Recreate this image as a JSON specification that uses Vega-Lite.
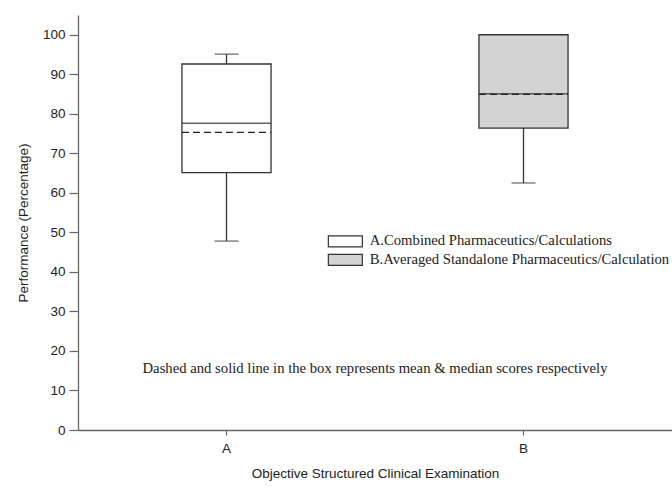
{
  "$schema": "https://vega.github.io/schema/vega-lite/v6.json",
  "width": 594,
  "height": 415,
  "autosize": {"type": "none"},
  "padding": {"left": 78, "top": 15, "right": 0, "bottom": 58},
  "background": "white",
  "config": {
    "view": {"stroke": null},
    "axis": {
      "labelFont": "Liberation Sans",
      "titleFont": "Liberation Sans",
      "labelFontSize": 13.5,
      "titleFontSize": 13.5,
      "titleFontWeight": "normal",
      "labelColor": "#222",
      "titleColor": "#222",
      "domainColor": "#666",
      "tickColor": "#666",
      "domainWidth": 1.3,
      "tickWidth": 1.2,
      "grid": false
    }
  },
  "data": {
    "values": [
      {"group": "A", "low": 47.8, "q1": 65.1, "median": 77.6, "mean": 75.3, "q3": 92.6, "high": 95.1},
      {"group": "B", "low": 62.5, "q1": 76.4, "median": 85.1, "mean": 84.9, "q3": 100, "high": 100}
    ]
  },
  "encoding": {
    "x": {
      "field": "group",
      "type": "nominal",
      "scale": {"type": "band", "domain": ["A", "B"], "paddingInner": 0, "paddingOuter": 0},
      "axis": {"title": "Objective Structured Clinical Examination", "labelAngle": 0, "tickSize": 5, "labelPadding": 6, "titlePadding": 12}
    }
  },
  "layer": [
    {
      "mark": {"type": "rule", "color": "#333", "strokeWidth": 1.3},
      "encoding": {
        "y": {
          "field": "low",
          "type": "quantitative",
          "scale": {"domain": [0, 105], "nice": false, "zero": true},
          "axis": {"title": "Performance (Percentage)", "values": [0, 10, 20, 30, 40, 50, 60, 70, 80, 90, 100], "tickSize": 9, "labelPadding": 4, "titlePadding": 12}
        },
        "y2": {"field": "q1"}
      }
    },
    {
      "mark": {"type": "rule", "color": "#333", "strokeWidth": 1.3},
      "encoding": {
        "y": {"field": "q3", "type": "quantitative"},
        "y2": {"field": "high"}
      }
    },
    {
      "mark": {"type": "tick", "color": "#333", "size": 24, "thickness": 1.3, "orient": "horizontal"},
      "encoding": {"y": {"field": "low", "type": "quantitative"}}
    },
    {
      "mark": {"type": "tick", "color": "#333", "size": 24, "thickness": 1.3, "orient": "horizontal"},
      "encoding": {"y": {"field": "high", "type": "quantitative"}}
    },
    {
      "mark": {"type": "bar", "width": {"band": 0.3}, "stroke": "#333", "strokeWidth": 1.3},
      "encoding": {
        "y": {"field": "q1", "type": "quantitative"},
        "y2": {"field": "q3"},
        "fill": {
          "field": "group",
          "type": "nominal",
          "scale": {"domain": ["A", "B"], "range": ["#ffffff", "#d3d3d3"]},
          "legend": {
            "orient": "none",
            "legendX": 260,
            "legendY": 219,
            "title": null,
            "padding": 0,
            "symbolType": "M-3.4,-1.1H3.4V1.1H-3.4Z",
            "symbolSize": 100,
            "symbolStrokeColor": "#333",
            "symbolStrokeWidth": 1.2,
            "symbolOpacity": 1,
            "labelFont": "Liberation Serif",
            "labelFontSize": 14.7,
            "labelColor": "#222",
            "labelOffset": 17,
            "rowPadding": 1.6,
            "labelLimit": 400,
            "labelExpr": "datum.label == 'A' ? 'A.Combined Pharmaceutics/Calculations' : 'B.Averaged Standalone Pharmaceutics/Calculation'"
          }
        }
      }
    },
    {
      "mark": {"type": "tick", "color": "#222", "size": 89, "thickness": 1.5, "orient": "horizontal"},
      "encoding": {"y": {"field": "median", "type": "quantitative"}}
    },
    {
      "mark": {"type": "rule", "color": "#222", "strokeWidth": 1.3, "strokeDash": [7, 4]},
      "encoding": {
        "x": {"field": "group", "type": "nominal", "bandPosition": 0.35},
        "x2": {"field": "group", "bandPosition": 0.65},
        "y": {"field": "mean", "type": "quantitative"}
      }
    },
    {
      "data": {"values": [{"note": "Dashed and solid line in the box represents mean & median scores respectively", "pos": 14.4}]},
      "mark": {"type": "text", "font": "Liberation Serif", "fontSize": 14.7, "color": "#222", "baseline": "alphabetic", "align": "center"},
      "encoding": {
        "x": null,
        "y": {"field": "pos", "type": "quantitative"},
        "text": {"field": "note"}
      }
    }
  ]
}
